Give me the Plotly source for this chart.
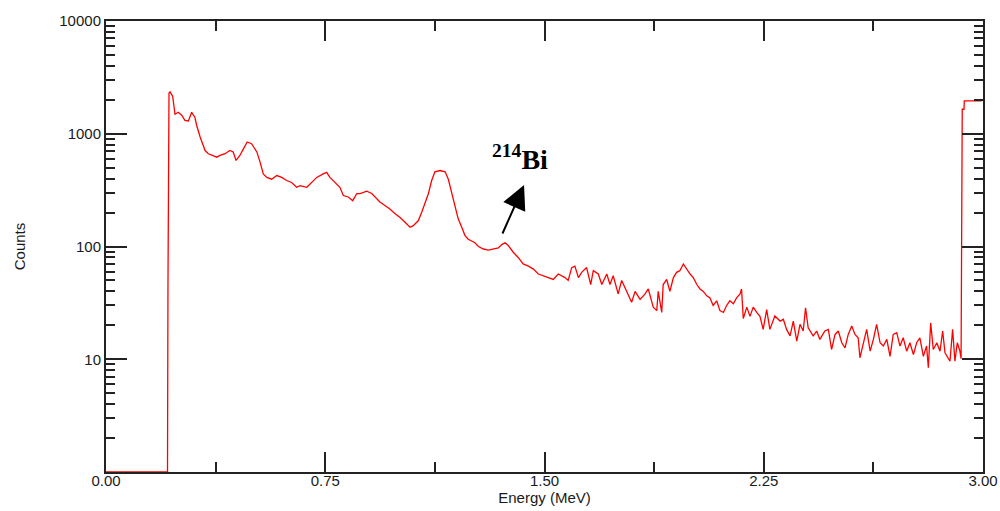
import plotly.graph_objects as go

# Spectrum: energy (MeV) and counts
energy = [0.000, 0.2104, 0.212, 0.2155, 0.219, 0.228, 0.236, 0.247, 0.259, 0.270, 0.282, 0.293, 0.304, 0.310,
          0.322, 0.333, 0.339, 0.350, 0.367, 0.379, 0.390, 0.407, 0.424, 0.435, 0.445, 0.458, 0.470,
          0.483, 0.498, 0.516, 0.527, 0.538, 0.550, 0.567, 0.584, 0.601, 0.618, 0.635, 0.652, 0.664,
          0.687, 0.704, 0.721, 0.743, 0.755, 0.766, 0.783, 0.800, 0.812, 0.829, 0.844, 0.858, 0.869,
          0.892, 0.909, 0.920, 0.937, 0.954, 0.971, 0.989, 1.006, 1.023, 1.040, 1.051, 1.068, 1.080,
          1.091, 1.103, 1.114, 1.125, 1.143, 1.160, 1.171, 1.183, 1.194, 1.205, 1.217, 1.228, 1.239,
          1.251, 1.262, 1.274, 1.291, 1.308, 1.325, 1.342, 1.354, 1.365, 1.376, 1.393, 1.410, 1.427,
          1.445, 1.462, 1.479, 1.496, 1.513, 1.530, 1.547, 1.570, 1.581, 1.593, 1.604, 1.616, 1.627,
          1.644, 1.658, 1.667, 1.684, 1.696, 1.713, 1.724, 1.735, 1.752, 1.764, 1.781, 1.798, 1.810,
          1.827, 1.844, 1.855, 1.872, 1.884, 1.889, 1.901, 1.906, 1.918, 1.929, 1.941, 1.952, 1.963,
          1.975, 1.986, 1.998, 2.009, 2.021, 2.032, 2.043, 2.055, 2.066, 2.077, 2.089, 2.100, 2.112,
          2.123, 2.134, 2.146, 2.157, 2.169, 2.174, 2.180, 2.192, 2.203, 2.214, 2.226, 2.237, 2.248,
          2.260, 2.271, 2.288, 2.306, 2.317, 2.328, 2.340, 2.351, 2.363, 2.374, 2.385, 2.393, 2.402,
          2.419, 2.431, 2.442, 2.459, 2.471, 2.482, 2.494, 2.505, 2.517, 2.528, 2.539, 2.551, 2.562,
          2.573, 2.579, 2.591, 2.602, 2.614, 2.625, 2.636, 2.648, 2.659, 2.671, 2.682, 2.693, 2.705,
          2.716, 2.727, 2.739, 2.750, 2.762, 2.773, 2.784, 2.796, 2.807, 2.813, 2.821, 2.830, 2.842,
          2.853, 2.862, 2.870, 2.881, 2.887, 2.896, 2.904, 2.912, 2.921, 2.925, 2.928, 2.929, 2.935,
          2.936, 2.995]
counts = [1, 1, 45, 2300, 2350, 2150, 1490, 1550, 1460, 1316, 1300, 1550, 1400, 1190,
          935, 790, 710, 665, 642, 620, 642, 665, 710, 690, 580, 642, 735,
          845, 815, 690, 560, 440, 410, 395, 426, 410, 385, 370, 335, 347,
          335, 370, 410, 440, 455, 410, 370, 335, 283, 275, 255, 295, 295,
          310, 295, 275, 248, 231, 215, 195, 181, 164, 148, 153, 169, 201,
          239, 295, 385, 460, 472, 460, 395, 295, 222, 175, 148, 125, 116,
          112, 108, 100, 95, 93, 95, 97, 104, 108, 102, 89, 80, 70,
          67, 63, 57, 55, 53, 51, 57, 53, 50, 65, 67, 53, 59,
          65, 46, 61, 57, 46, 57, 46, 55, 38, 50, 40, 32, 40,
          34, 38, 42, 29, 27, 40, 26, 46, 51, 40, 53, 59, 61,
          70, 63, 57, 53, 46, 42, 40, 36.5, 35, 30, 33, 27, 26,
          30, 33, 31, 35, 38, 42, 23, 29, 24, 29, 26, 24, 18.4,
          27.6, 18.4, 24.2, 21.8, 22.6, 18.4, 16.1, 21.8, 14.5, 20.4, 17.8, 28.6, 19,
          16.1, 17.8, 15, 17.8, 18.4, 12.2, 16.6, 17.8, 14, 12.6, 16.6, 19.7, 16.6,
          15.5, 10.3, 14, 18.4, 11.8, 15, 20.4, 14, 13.1, 15, 10.6, 16.6, 17.2,
          13.1, 15.5, 11.8, 14, 11, 14, 15.5, 10.6, 13.1, 8.4, 21, 12.2, 14,
          11.8, 17.8, 11.4, 10.3, 9.6, 18.4, 9.6, 14, 11.8, 10.1, 110, 1650, 1650,
          1960, 1960]

x_ticks = [0.0, 0.75, 1.5, 2.25, 3.0]
x_tick_labels = ["0.00", "0.75", "1.50", "2.25", "3.00"]
x_minor = [0.375, 1.125, 1.875, 2.625]
y_ticks = [10, 100, 1000, 10000]
y_tick_labels = ["10", "100", "1000", "10000"]
y_minor = [m * d for d in (1, 10, 100, 1000) for m in range(2, 10)]

fig = go.Figure()
fig.add_trace(go.Scatter(x=energy, y=counts, mode="lines",
                         line=dict(color="#ff0000", width=1.3), showlegend=False))

tick_font = dict(family="Liberation Sans, Arial, sans-serif", size=15, color="#1a1a1a")

fig.update_xaxes(range=[0, 3], tickmode="array", tickvals=x_ticks, ticktext=x_tick_labels,
                 ticks="inside", ticklen=20, tickwidth=1.5, tickcolor="#222",
                 showline=True, linecolor="#222", linewidth=2, mirror="ticks",
                 showgrid=False, zeroline=False, tickfont=tick_font, automargin=False,
                 ticklabelstandoff=-6,
                 minor=dict(tickmode="array", tickvals=x_minor, ticks="inside", ticklen=10,
                            tickwidth=1.5, tickcolor="#222", showgrid=False),
                 title=dict(text="Energy (MeV)", font=tick_font, standoff=4))
fig.update_yaxes(type="log", range=[0, 4], tickmode="array", tickvals=y_ticks, ticktext=y_tick_labels,
                 ticks="inside", ticklen=21, tickwidth=1.5, tickcolor="#222",
                 showline=True, linecolor="#222", linewidth=2, mirror="ticks",
                 showgrid=False, zeroline=False, tickfont=tick_font, automargin=False,
                 minor=dict(tickmode="array", tickvals=y_minor, ticks="inside", ticklen=9,
                            tickwidth=1.5, tickcolor="#222", showgrid=False),
                 title=dict(text="Counts", font=tick_font, standoff=30))

# label and arrow
fig.add_annotation(x=1.415, y=2.79, xref="x", yref="y", text="<b><sup>214</sup>Bi</b>",
                   showarrow=False, font=dict(family="Liberation Serif, Times New Roman, serif",
                                              size=28, color="black"),
                   xanchor="center", yanchor="middle")
fig.add_annotation(x=1.430, y=2.545, xref="x", yref="y", ax=1.354, ay=2.102,
                   axref="x", ayref="y", text="", showarrow=True, arrowhead=2,
                   arrowsize=2.4, arrowwidth=2, arrowcolor="black")

fig.update_layout(width=1000, height=511, margin=dict(l=106, r=17, t=21, b=39),
                  plot_bgcolor="white", paper_bgcolor="white")

fig.write_html("out.html")
